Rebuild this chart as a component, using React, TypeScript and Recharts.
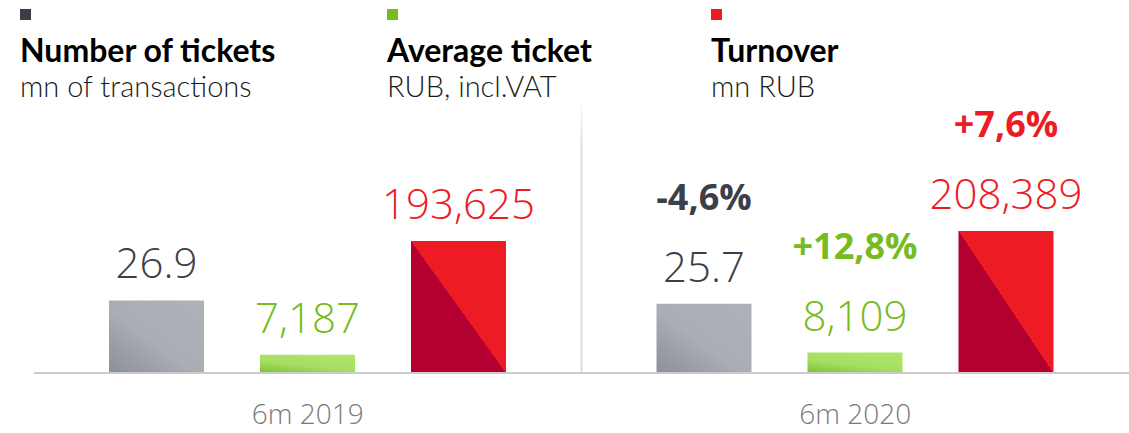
import { BarChart, Bar, XAxis, YAxis, LabelList, ReferenceLine } from 'recharts';

const PERIODS = ['6m 2019', '6m 2020'];
const TICKETS = [26.9, 25.7];
const AVG_TICKET = [7187, 8109];
const TURNOVER = [193625, 208389];
const TICKETS_CHANGE = ['', '-4,6%'];
const AVG_CHANGE = ['', '+12,8%'];
const TURNOVER_CHANGE = ['', '+7,6%'];

const FONT = '"Open Sans", "DejaVu Sans", sans-serif';
const HEAD_FONT = 'Lato, "Open Sans", sans-serif';

const data = PERIODS.map((period, i) => ({
  period,
  tickets: TICKETS[i],
  avg: AVG_TICKET[i],
  turnover: TURNOVER[i],
}));

const HEADERS = [
  { x: 20, color: '#3b3f45', title: 'Number of tickets', sub: 'mn of transactions' },
  { x: 387, color: '#77bc1f', title: 'Average ticket', sub: 'RUB, incl.VAT' },
  { x: 711, color: '#ed1c24', title: 'Turnover', sub: 'mn RUB' },
];

function makeLabel(color: string, changes: string[], fmt: (v: number) => string) {
  return (props: any) => {
    const { x, y, width, value, index } = props;
    const cx = x + width / 2;
    return (
      <g>
        <text x={cx} y={y - 22} textAnchor="middle" fill={color} fontSize={42} fontWeight={300} fontFamily={FONT}>
          {fmt(value)}
        </text>
        {changes[index] ? (
          <text x={cx} y={y - 94} textAnchor="middle" fill={color} fontSize={36} fontWeight={700} fontFamily={FONT}>
            {changes[index]}
          </text>
        ) : null}
      </g>
    );
  };
}

const fmtComma = (v: number) => v.toLocaleString('en-US');

export default function App() {
  return (
    <div style={{ position: 'absolute', left: 0, top: 0, width: 1129, height: 433, background: '#fff' }}>
      {HEADERS.map((h) => (
        <div key={h.title} style={{ position: 'absolute', left: h.x, top: 0, fontFamily: HEAD_FONT }}>
          <div style={{ position: 'absolute', left: 0, top: 9, width: 11, height: 11, background: h.color }} />
          <div style={{ position: 'absolute', left: 0, top: 32, fontSize: 32, fontWeight: 700, color: '#000', whiteSpace: 'nowrap', lineHeight: '36px' }}>
            {h.title}
          </div>
          <div style={{ position: 'absolute', left: 0, top: 71, fontSize: 29, fontWeight: 300, color: '#1a1a1a', whiteSpace: 'nowrap', lineHeight: '30px' }}>
            {h.sub}
          </div>
        </div>
      ))}
      <BarChart
        width={1129}
        height={433}
        data={data}
        margin={{ top: 97, right: 0, bottom: 0, left: 34 }}
        barSize={95}
        barGap={56}
        style={{ position: 'absolute', left: 0, top: 0 }}
      >
        <defs>
          <linearGradient id="gradGrey" x1="0" y1="1" x2="1" y2="0">
            <stop offset="0%" stopColor="#8a9099" />
            <stop offset="45%" stopColor="#a9adb4" />
            <stop offset="100%" stopColor="#adb1b8" />
          </linearGradient>
          <linearGradient id="gradGreen" x1="0" y1="1" x2="0.6" y2="0">
            <stop offset="0%" stopColor="#7cc132" />
            <stop offset="50%" stopColor="#a6de62" />
            <stop offset="100%" stopColor="#ade56a" />
          </linearGradient>
          <linearGradient id="gradRed" x1="0" y1="1" x2="1" y2="0">
            <stop offset="50%" stopColor="#b40030" />
            <stop offset="50%" stopColor="#ed1c24" />
          </linearGradient>
          <linearGradient id="gradDivider" gradientUnits="userSpaceOnUse" x1="0" y1="97" x2="0" y2="150">
            <stop offset="0%" stopColor="#ffffff" />
            <stop offset="100%" stopColor="#dcdcdc" />
          </linearGradient>
        </defs>
        <XAxis
          dataKey="period"
          height={60}
          axisLine={{ stroke: '#cbcbcb', strokeWidth: 2 }}
          tickLine={false}
          tick={{ fontSize: 28, fill: '#7a7a7a', fontFamily: FONT, fontWeight: 300 }}
          tickMargin={25}
        />
        <YAxis yAxisId="g" hide domain={[0, 102.4]} />
        <YAxis yAxisId="a" hide domain={[0, 109400]} />
        <YAxis yAxisId="t" hide domain={[0, 405000]} />
        <ReferenceLine yAxisId="g" x="6m 2020" position="start" stroke="url(#gradDivider)" strokeWidth={2} />
        <Bar yAxisId="g" dataKey="tickets" fill="url(#gradGrey)" isAnimationActive={false}>
          <LabelList dataKey="tickets" content={makeLabel('#3b4048', TICKETS_CHANGE, (v) => v.toFixed(1))} />
        </Bar>
        <Bar yAxisId="a" dataKey="avg" fill="url(#gradGreen)" isAnimationActive={false}>
          <LabelList dataKey="avg" content={makeLabel('#77bb22', AVG_CHANGE, fmtComma)} />
        </Bar>
        <Bar yAxisId="t" dataKey="turnover" fill="url(#gradRed)" isAnimationActive={false}>
          <LabelList dataKey="turnover" content={makeLabel('#ed1c24', TURNOVER_CHANGE, fmtComma)} />
        </Bar>
      </BarChart>
    </div>
  );
}
